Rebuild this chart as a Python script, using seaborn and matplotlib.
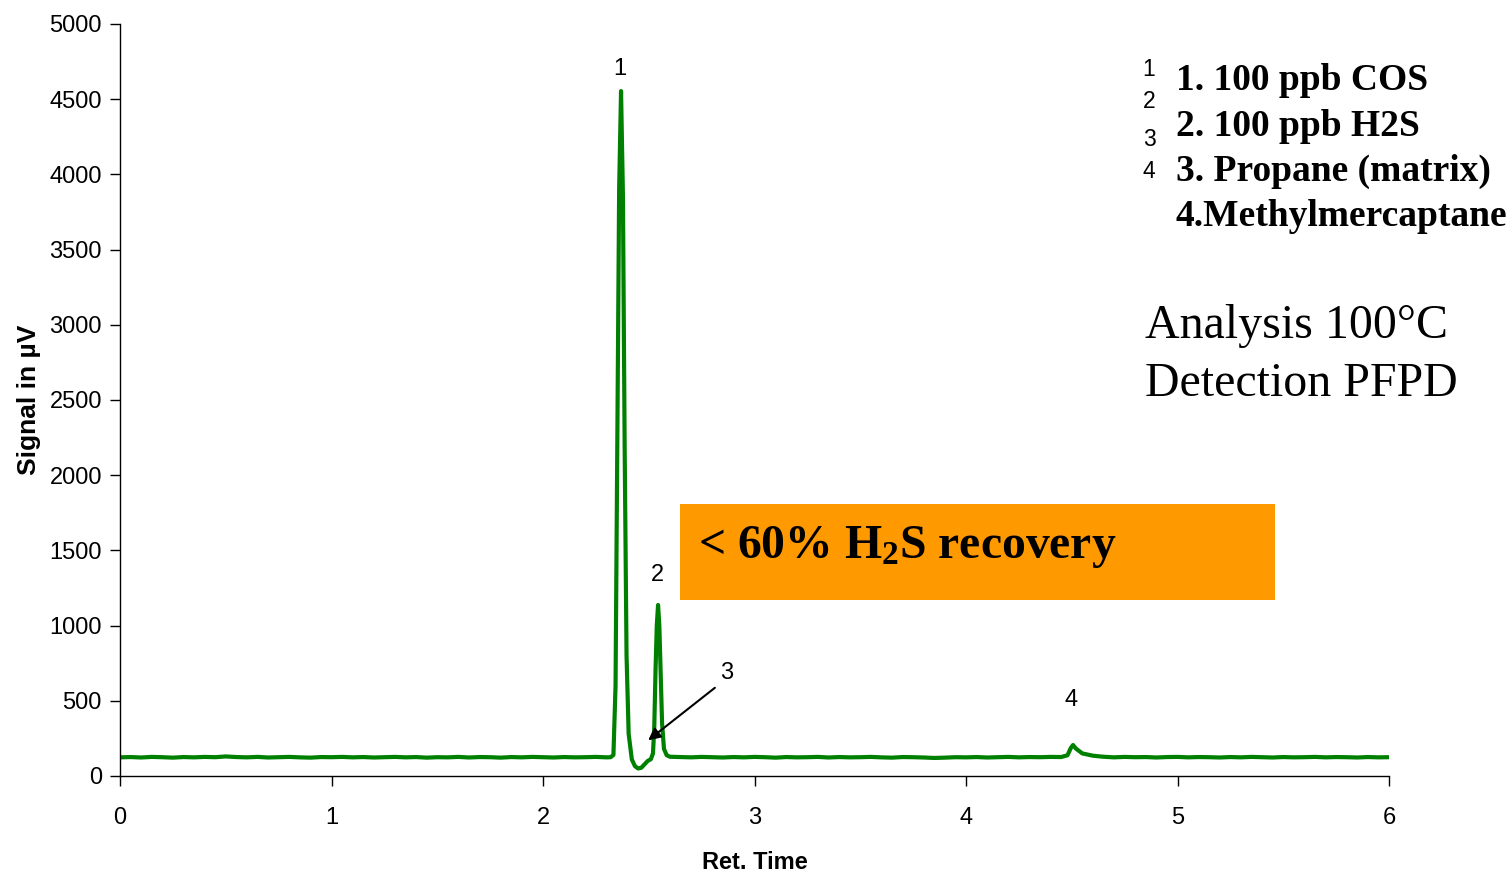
import matplotlib
matplotlib.use("Agg")
import matplotlib.pyplot as plt
from matplotlib.patches import Rectangle
import seaborn as sns
import pandas as pd

# ---- data ----
base1_t = [0.00, 0.05, 0.10, 0.15, 0.20, 0.25, 0.30, 0.35, 0.40, 0.45, 0.50, 0.55, 0.60, 0.65, 0.70,
           0.75, 0.80, 0.85, 0.90, 0.95, 1.00, 1.05, 1.10, 1.15, 1.20, 1.25, 1.30, 1.35, 1.40, 1.45,
           1.50, 1.55, 1.60, 1.65, 1.70, 1.75, 1.80, 1.85, 1.90, 1.95, 2.00, 2.05, 2.10, 2.15, 2.20,
           2.25, 2.30]
base1_v = [124, 126, 123, 127, 125, 122, 126, 124, 127, 125, 130, 126, 124, 127, 123,
           125, 127, 124, 122, 126, 125, 127, 124, 126, 123, 125, 127, 124, 126, 122,
           125, 124, 127, 123, 126, 125, 122, 126, 124, 127, 125, 123, 126, 124, 125,
           127, 124]
peaks12_t = [2.320, 2.333, 2.343, 2.352, 2.360, 2.369, 2.378, 2.386, 2.395, 2.405, 2.420, 2.435,
             2.450, 2.465, 2.480, 2.495, 2.510, 2.520, 2.526, 2.532, 2.538, 2.544, 2.550, 2.556,
             2.563, 2.572, 2.585, 2.600]
peaks12_v = [125, 140, 600, 2300, 3900, 4554, 3850, 2200, 800, 280, 110, 65,
             50, 55, 78, 100, 112, 150, 320, 700, 1000, 1137, 1000, 700,
             350, 180, 138, 128]
base2_t = [2.65, 2.70, 2.75, 2.80, 2.85, 2.90, 2.95, 3.00, 3.05, 3.10, 3.15, 3.20, 3.25, 3.30,
           3.35, 3.40, 3.45, 3.50, 3.55, 3.60, 3.65, 3.70, 3.75, 3.80, 3.85, 3.90, 3.95, 4.00,
           4.05, 4.10, 4.15, 4.20, 4.25, 4.30, 4.35, 4.40, 4.45]
base2_v = [126, 124, 127, 125, 123, 126, 124, 127, 125, 122, 126, 124, 125, 127,
           123, 126, 124, 125, 127, 124, 122, 126, 125, 123, 120, 122, 125, 124,
           126, 123, 125, 127, 124, 126, 125, 127, 126]
peak4_t = [4.480, 4.495, 4.506, 4.520, 4.550, 4.600, 4.650]
peak4_v = [138, 185, 206, 182, 150, 135, 128]
base3_t = [4.70, 4.75, 4.80, 4.85, 4.90, 4.95, 5.00, 5.05, 5.10, 5.15, 5.20, 5.25, 5.30, 5.35,
           5.40, 5.45, 5.50, 5.55, 5.60, 5.65, 5.70, 5.75, 5.80, 5.85, 5.90, 5.95, 6.00]
base3_v = [124, 127, 125, 126, 123, 126, 127, 124, 126, 125, 123, 126, 124, 127,
           125, 123, 126, 124, 125, 127, 124, 126, 125, 123, 126, 124, 125]

peak_labels = ["1", "2", "3", "4"]
legend_lines = ["1. 100 ppb COS", "2. 100 ppb H2S", "3. Propane (matrix)", "4.Methylmercaptane"]
x_ticks = [0, 1, 2, 3, 4, 5, 6]
y_ticks = [0, 500, 1000, 1500, 2000, 2500, 3000, 3500, 4000, 4500, 5000]

t = base1_t + peaks12_t + base2_t + peak4_t + base3_t
v = base1_v + peaks12_v + base2_v + peak4_v + base3_v
df = pd.DataFrame({"Ret. Time": t, "Signal": v})

sns.set_theme(style="ticks")
plt.rcParams["font.family"] = ["Liberation Sans", "DejaVu Sans"]
plt.rcParams["text.color"] = "black"
plt.rcParams["axes.labelcolor"] = "black"
plt.rcParams["mathtext.fontset"] = "custom"
plt.rcParams["mathtext.rm"] = "Liberation Serif:bold"
plt.rcParams["mathtext.default"] = "rm"

fig = plt.figure(figsize=(15.12, 8.74), dpi=100)
ax = fig.add_axes([120 / 1512, 98 / 874, 1269 / 1512, 752 / 874])

sns.lineplot(data=df, x="Ret. Time", y="Signal", ax=ax, color="#008000",
             linewidth=3.0, sort=False, estimator=None)

ax.set_xlim(0, 6)
ax.set_ylim(0, 5000)
ax.set_xticks(x_ticks)
ax.set_yticks(y_ticks)
ax.tick_params(axis="both", labelsize=17, length=7, width=1, color="black",
               labelcolor="black", pad=6)
ax.tick_params(axis="x", pad=15)
for s in ["left", "bottom"]:
    ax.spines[s].set_color("black")
    ax.spines[s].set_linewidth(1)
sns.despine(ax=ax)
ax.set_facecolor("white")
fig.patch.set_facecolor("white")

ax.set_xlabel("Ret. Time", labelpad=16, family=["Liberation Sans", "DejaVu Sans"],
              fontweight="bold", fontsize=17, color="black")
ax.set_ylabel("Signal in µV", labelpad=6, family=["Liberation Sans", "DejaVu Sans"],
              fontweight="bold", fontsize=19, color="black")

# peak labels
ax.text(2.364, 4700, peak_labels[0], fontsize=17, ha="center", va="center", color="black")
ax.text(2.539, 1336, peak_labels[1], fontsize=17, ha="center", va="center", color="black")
ax.text(2.870, 685, peak_labels[2], fontsize=17, ha="center", va="center", color="black")
ax.text(4.497, 505, peak_labels[3], fontsize=17, ha="center", va="center", color="black")
ax.annotate("", xy=(2.487, 226), xytext=(2.823, 598),
            arrowprops=dict(arrowstyle="-|>", color="black", lw=1.5, mutation_scale=18))

# legend-like text block (figure pixel coords)
def fx(px):
    return px / 1512
def fy(py):
    return 1 - py / 874

for py, s in zip([69, 102, 140, 172], peak_labels):
    fig.text(fx(1149), fy(py), s, fontsize=16.5, ha="center", va="center", color="black")
serif = ["Liberation Serif", "DejaVu Serif"]
for py, s in zip([81, 126, 171, 216], legend_lines):
    fig.text(fx(1176), fy(py), s, fontsize=27, family=serif, fontweight="bold",
             ha="left", va="center", color="black")

fig.text(fx(1145), fy(326), "Analysis 100°C", fontsize=34.5, family=serif, ha="left",
         va="center", color="black")
fig.text(fx(1145), fy(384), "Detection PFPD", fontsize=34.5, family=serif, ha="left",
         va="center", color="black")

# orange box with callout
ax.add_patch(Rectangle((2.648, 1170), 5.461 - 2.648, 1808 - 1170, facecolor="#FF9900",
                       edgecolor="none", zorder=3))
fig.text(fx(698), fy(547), r"< 60% H$_2$S recovery", fontsize=34.3, family=serif,
         fontweight="bold", ha="left", va="center", zorder=4, color="black")

fig.savefig("out.png", dpi=100, facecolor="white")
